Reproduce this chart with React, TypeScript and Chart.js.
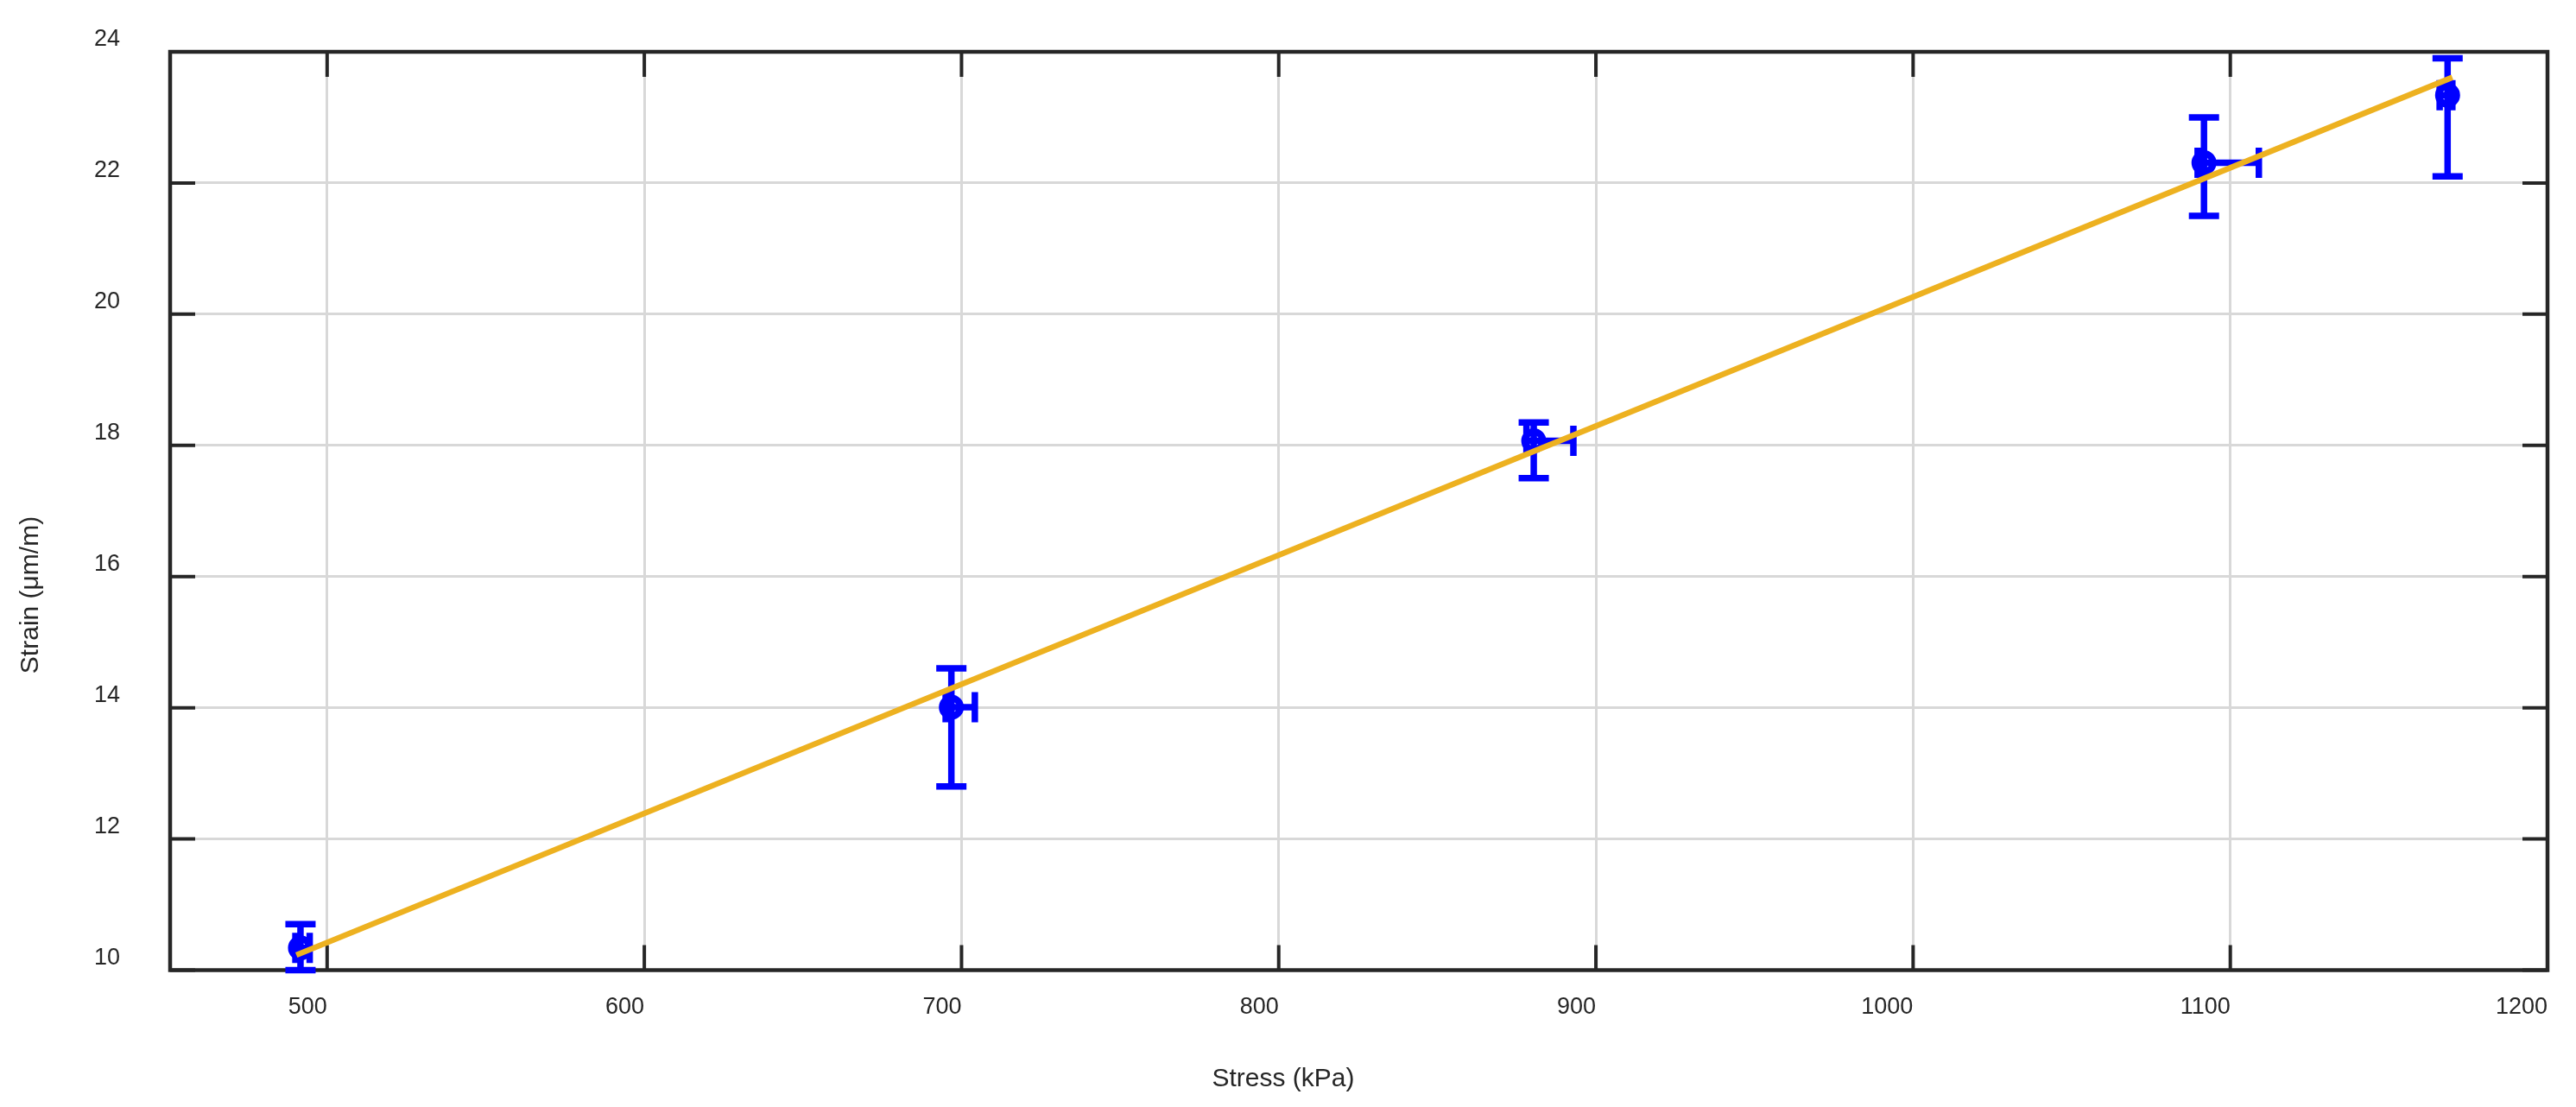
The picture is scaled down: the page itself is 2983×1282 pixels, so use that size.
import React, { useEffect, useRef } from 'react';
import { Chart, registerables } from 'chart.js';

Chart.register(...registerables);

// ---- data ----
const stress = [491.6, 696.8, 880.4, 1091.7, 1168.5];
const strain = [10.34, 14.01, 18.07, 22.31, 23.34];
const strainErrPlus = [0.36, 0.59, 0.28, 0.69, 0.56];
const strainErrMinus = [0.34, 1.21, 0.57, 0.81, 1.24];
const stressErrPlus = [2.9, 7.4, 12.5, 17.3, 1.5];
const stressErrMinus = [1.6, 1.8, 2.3, 2.0, 2.5];
const fitStress = [490.3, 1170];
const fitStrain = [10.23, 23.61];
const xTicks = [500, 600, 700, 800, 900, 1000, 1100, 1200];
const yTicks = [10, 12, 14, 16, 18, 20, 22, 24];
const xTitle = 'Stress (kPa)';
const yTitle = 'Strain (\u03bcm/m)';

const W = 2983;
const H = 1282;
const TEXT = '#262626';
const FONT = '"Liberation Sans", Arial, Helvetica, sans-serif';

const framePlugin = {
  id: 'frameTicks',
  beforeDatasetsDraw(chart: any) {
    const { ctx, chartArea } = chart;
    const { left, right, top, bottom } = chartArea;
    const xs = chart.scales.x;
    const ys = chart.scales.y;
    ctx.save();
    ctx.strokeStyle = TEXT;
    ctx.lineWidth = 4;
    const tl = 29;
    ctx.beginPath();
    xTicks.forEach((v) => {
      const px = xs.getPixelForValue(v);
      ctx.moveTo(px, bottom);
      ctx.lineTo(px, bottom - tl);
      ctx.moveTo(px, top);
      ctx.lineTo(px, top + tl);
    });
    yTicks.forEach((v) => {
      const py = ys.getPixelForValue(v);
      ctx.moveTo(left, py);
      ctx.lineTo(left + tl, py);
      ctx.moveTo(right, py);
      ctx.lineTo(right - tl, py);
    });
    ctx.stroke();
    ctx.lineWidth = 4.5;
    ctx.strokeRect(left, top, right - left, bottom - top);
    ctx.restore();
  },
  afterDraw(chart: any) {
    const { ctx } = chart;
    ctx.save();
    ctx.fillStyle = TEXT;
    ctx.font = `30px ${FONT}`;
    ctx.textAlign = 'center';
    ctx.textBaseline = 'alphabetic';
    ctx.fillText(xTitle, 1486, 1258);
    ctx.translate(43.5, 689);
    ctx.rotate(-Math.PI / 2);
    ctx.fillText(yTitle, 0, 0);
    ctx.restore();
  },
};

const errorBarPlugin = {
  id: 'errorBars',
  afterDatasetDraw(chart: any, args: any) {
    if (args.index !== 1) return;
    const { ctx } = chart;
    const xs = chart.scales.x;
    const ys = chart.scales.y;
    const cap = 17.5;
    ctx.save();
    ctx.strokeStyle = '#0000ff';
    ctx.lineWidth = 7.5;
    ctx.lineCap = 'butt';
    ctx.beginPath();
    stress.forEach((sx, i) => {
      const px = xs.getPixelForValue(sx);
      const py = ys.getPixelForValue(strain[i]);
      const yT = ys.getPixelForValue(strain[i] + strainErrPlus[i]);
      const yB = ys.getPixelForValue(strain[i] - strainErrMinus[i]);
      ctx.moveTo(px, yT);
      ctx.lineTo(px, yB);
      ctx.moveTo(px - cap, yT);
      ctx.lineTo(px + cap, yT);
      ctx.moveTo(px - cap, yB);
      ctx.lineTo(px + cap, yB);
      const xL = xs.getPixelForValue(sx - stressErrMinus[i]);
      const xR = xs.getPixelForValue(sx + stressErrPlus[i]);
      ctx.moveTo(xL, py);
      ctx.lineTo(xR, py);
      ctx.moveTo(xL, py - cap);
      ctx.lineTo(xL, py + cap);
      ctx.moveTo(xR, py - cap);
      ctx.lineTo(xR, py + cap);
    });
    ctx.stroke();
    ctx.restore();
  },
};

export default function App() {
  const ref = useRef<HTMLCanvasElement | null>(null);

  useEffect(() => {
    if (!ref.current) return;
    const chart = new Chart(ref.current, {
      type: 'scatter',
      data: {
        datasets: [
          {
            type: 'line',
            label: 'Fit',
            data: fitStress.map((x, i) => ({ x, y: fitStrain[i] })),
            borderColor: '#EDB120',
            backgroundColor: '#EDB120',
            borderWidth: 6.5,
            pointRadius: 0,
            fill: false,
            tension: 0,
            order: 0,
          } as any,
          {
            type: 'scatter',
            label: 'Data',
            data: stress.map((x, i) => ({ x, y: strain[i] })),
            pointRadius: 10.5,
            pointHoverRadius: 10.5,
            pointBorderWidth: 8,
            pointBackgroundColor: '#ffffff',
            pointBorderColor: '#0000ff',
            order: 1,
          } as any,
        ],
      },
      options: {
        responsive: false,
        animation: false,
        devicePixelRatio: 1,
        events: [],
        layout: { padding: { top: 60, right: 33, left: 0, bottom: 0 } },
        plugins: {
          legend: { display: false },
          tooltip: { enabled: false },
          title: { display: false },
        },
        scales: {
          x: {
            type: 'linear',
            position: 'bottom',
            min: 450.5,
            max: 1200,
            afterBuildTicks: (s: any) => {
              s.ticks = xTicks.map((v) => ({ value: v }));
            },
            afterFit: (s: any) => {
              s.height = 158.5;
              s.paddingLeft = 0;
              s.paddingRight = 0;
              s.paddingTop = 0;
              s.paddingBottom = 0;
            },
            grid: { color: '#d8d8d8', lineWidth: 3, drawTicks: false },
            border: { display: false },
            ticks: {
              align: 'end',
              padding: 27,
              color: TEXT,
              maxRotation: 0,
              autoSkip: false,
              font: { family: FONT, size: 27 },
              callback: (v: any) => String(v),
            },
          },
          y: {
            type: 'linear',
            position: 'left',
            min: 10,
            max: 24,
            afterBuildTicks: (s: any) => {
              s.ticks = yTicks.map((v) => ({ value: v }));
            },
            afterFit: (s: any) => {
              s.width = 197;
              s.paddingLeft = 0;
              s.paddingRight = 0;
              s.paddingTop = 0;
              s.paddingBottom = 0;
            },
            grid: { color: '#d8d8d8', lineWidth: 3, drawTicks: false },
            border: { display: false },
            ticks: {
              padding: 58,
              labelOffset: -14,
              color: TEXT,
              autoSkip: false,
              font: { family: FONT, size: 27 },
              callback: (v: any) => String(v),
            },
          },
        },
      },
      plugins: [framePlugin, errorBarPlugin],
    });
    return () => chart.destroy();
  }, []);

  return (
    <div style={{ position: 'absolute', left: 0, top: 0, width: W, height: H, background: '#ffffff' }}>
      <canvas ref={ref} width={W} height={H} style={{ display: 'block', width: W, height: H }} />
    </div>
  );
}
